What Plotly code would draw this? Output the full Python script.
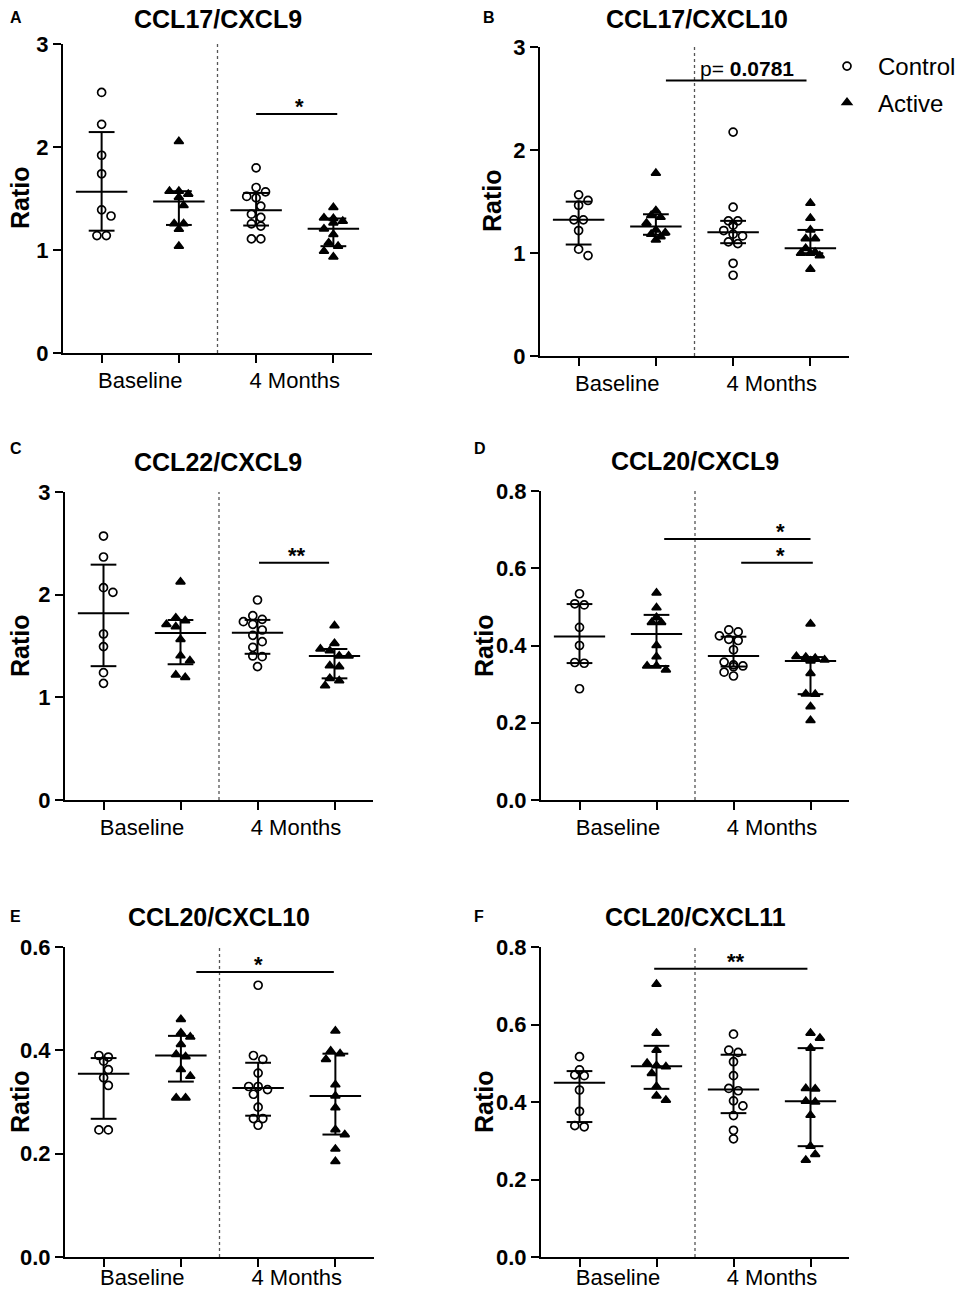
import numpy as np
import plotly.graph_objects as go

FONT = "Liberation Sans, Arial, sans-serif"
# the page puts an 8px margin round the figure; lay things out in the
# reference's pixel frame and shift them by that margin
OX, OY = 8, 8
W, H = 949, 1279

# ---- data (ratio values) ----
# each panel: [Control baseline, Active baseline, Control 4 months, Active 4 months]
ccl17_cxcl9 = [
    [2.53, 2.22, 1.92, 1.74, 1.39, 1.33, 1.14, 1.14],
    [2.054, 1.571, 1.571, 1.543, 1.511, 1.432, 1.257, 1.257, 1.202, 1.037],
    [1.798, 1.607, 1.565, 1.52, 1.506, 1.426, 1.348, 1.316, 1.254, 1.232, 1.108, 1.108],
    [1.413, 1.312, 1.306, 1.28, 1.264, 1.206, 1.151, 1.07, 1.037, 0.988, 0.933],
]
ccl17_cxcl10 = [
    [1.565, 1.51, 1.464, 1.322, 1.322, 1.218, 1.037, 0.975],
    [1.775, 1.412, 1.364, 1.348, 1.29, 1.224, 1.198, 1.183, 1.159, 1.127],
    [2.174, 1.445, 1.312, 1.312, 1.27, 1.218, 1.183, 1.166, 1.108, 1.091, 0.90, 0.784],
    [1.484, 1.338, 1.224, 1.14, 1.14, 1.045, 1.008, 0.998, 0.998, 0.975, 0.843],
]
ccl22_cxcl9 = [
    [2.571, 2.367, 2.068, 2.023, 1.617, 1.494, 1.24, 1.136],
    [2.125, 1.775, 1.746, 1.711, 1.688, 1.565, 1.405, 1.357, 1.218, 1.195],
    [1.948, 1.795, 1.76, 1.737, 1.711, 1.656, 1.604, 1.542, 1.487, 1.403, 1.396, 1.299],
    [1.698, 1.526, 1.471, 1.454, 1.403, 1.403, 1.308, 1.299, 1.185, 1.162, 1.113],
]
ccl20_cxcl9 = [
    [0.534, 0.508, 0.505, 0.447, 0.40, 0.356, 0.354, 0.288],
    [0.536, 0.498, 0.473, 0.46, 0.46, 0.40, 0.371, 0.347, 0.347, 0.337],
    [0.4406, 0.4354, 0.425, 0.416, 0.413, 0.389, 0.357, 0.35, 0.347, 0.345, 0.331, 0.321],
    [0.456, 0.372, 0.37, 0.367, 0.363, 0.36, 0.328, 0.275, 0.274, 0.242, 0.206],
]
ccl20_cxcl10 = [
    [0.390, 0.387, 0.379, 0.3626, 0.347, 0.332, 0.246, 0.246],
    [0.46, 0.434, 0.426, 0.4116, 0.392, 0.388, 0.363, 0.35, 0.308, 0.308],
    [0.526, 0.39, 0.3826, 0.356, 0.33, 0.33, 0.324, 0.315, 0.29, 0.268, 0.268, 0.255],
    [0.4374, 0.3987, 0.3935, 0.3826, 0.3335, 0.3116, 0.289, 0.2465, 0.237, 0.209, 0.185],
]
ccl20_cxcl11 = [
    [0.517, 0.483, 0.47, 0.468, 0.431, 0.376, 0.339, 0.336],
    [0.704, 0.578, 0.534, 0.50, 0.494, 0.491, 0.474, 0.44, 0.416, 0.405],
    [0.575, 0.534, 0.528, 0.504, 0.468, 0.435, 0.429, 0.403, 0.39, 0.365, 0.327, 0.305],
    [0.578, 0.565, 0.539, 0.435, 0.434, 0.402, 0.400, 0.366, 0.286, 0.265, 0.25],
]

panels = [ccl17_cxcl9, ccl17_cxcl10, ccl22_cxcl9, ccl20_cxcl9, ccl20_cxcl10, ccl20_cxcl11]
titles = ["CCL17/CXCL9", "CCL17/CXCL10", "CCL22/CXCL9", "CCL20/CXCL9", "CCL20/CXCL10", "CCL20/CXCL11"]
letters = ["A", "B", "C", "D", "E", "F"]
time_labels = ["Baseline", "4 Months"]
y_max = [3, 3, 3, 0.8, 0.6, 0.8]
y_ticks = [[0, 1, 2, 3], [0, 1, 2, 3], [0, 1, 2, 3],
           [0, 0.2, 0.4, 0.6, 0.8], [0, 0.2, 0.4, 0.6], [0, 0.2, 0.4, 0.6, 0.8]]
# significance bars: (from, to, height, label, label x)
sig_bars = [
    [(2.0, 3.05, 2.32, "*", 2.56)],
    [(1.13, 2.95, 2.675, "p= <b>0.0781</b>", 2.18)],
    [(2.02, 2.93, 2.31, "**", 2.51)],
    [(1.10, 3.0, 0.676, "*", 2.61), (2.1, 3.03, 0.614, "*", 2.61)],
    [(1.2, 2.98, 0.5516, "*", 2.0)],
    [(0.97, 2.96, 0.744, "**", 2.03)],
]

# panel boxes in reference pixels: left, right, top, bottom
boxes = [(63, 372, 44, 353), (540, 849, 47, 356), (65, 373, 492, 800),
         (541, 849, 491, 800), (65, 374, 947, 1257), (541, 849, 947, 1257)]
title_pos = [(218, 19), (697, 19), (218, 462), (695, 461), (219, 917), (695, 917)]
letter_pos = [(8, 17), (481, 17), (8, 448), (472, 448), (8, 916), (472, 916)]
ratio_pos = [(20, 198), (492, 201), (20, 646), (484, 646), (20, 1102), (484, 1102)]
label_standoff = [7, 7, 7, 7, 0, 0]


def fx(px):
    return (px - OX) / W


def fy(py):
    return 1 - (py - OY) / H


def swarm(vals, ppu, dia=8.5, step=4.7):
    """GraphPad-like horizontal spread of points, in pixels."""
    vals = np.asarray(vals, float)
    order = np.argsort(-vals, kind="stable")
    rows = []
    for i in order:
        if rows and (vals[rows[-1][0]] - vals[i]) * ppu < 4.0:
            rows[-1].append(i)
        else:
            rows.append([i])
    off = np.zeros(len(vals))
    placed = []
    for row in rows:
        k = len(row)
        base = [(j - (k - 1) / 2) * 2 * step for j in range(k)]
        best = base
        for s in (0, step, -step, 2 * step, -2 * step):
            cand = [b + s for b in base]
            if all(np.hypot(cx - px, vals[i] * ppu - py) >= dia
                   for cx, i in zip(cand, row) for px, py in placed):
                best = cand
                break
        for cx, i in zip(best, row):
            off[i] = cx
            placed.append((cx, vals[i] * ppu))
    return off


fig = go.Figure()
annotations = []
shapes = []

for p, data in enumerate(panels):
    n = p + 1
    xa = "x" if n == 1 else f"x{n}"
    ya = "y" if n == 1 else f"y{n}"
    left, right, top, bottom = boxes[p]
    px_per_cat = (right - left) / 4.0
    ppu = (bottom - top) / y_max[p]

    for g, vals in enumerate(data):
        is_ctrl = g % 2 == 0
        offs = swarm(vals, ppu) / px_per_cat
        fig.add_trace(go.Scatter(
            x=g + offs, y=vals, mode="markers", xaxis=xa, yaxis=ya,
            name="Control" if is_ctrl else "Active",
            legendgroup="c" if is_ctrl else "a",
            showlegend=(p == 0 and g < 2),
            marker=dict(
                symbol="circle-open" if is_ctrl else "triangle-up",
                size=8,
                color="black",
                line=dict(width=1.7, color="black"),
            ),
            hoverinfo="y",
        ))
        q1, med, q3 = np.percentile(vals, [25, 50, 75], method="weibull")
        fig.add_trace(go.Scatter(
            x=[g - 0.333, g + 0.333, None, g - 0.167, g + 0.167, None,
               g - 0.167, g + 0.167, None, g, g],
            y=[med, med, None, q3, q3, None, q1, q1, None, q1, q3],
            mode="lines", xaxis=xa, yaxis=ya, showlegend=False,
            line=dict(color="black", width=2), hoverinfo="skip",
        ))

    axis_common = dict(showgrid=False, zeroline=False, showline=True,
                       linecolor="black", linewidth=2, ticks="outside",
                       tickcolor="black", tickwidth=2, ticklen=8, automargin=False)
    fig.update_layout({
        ("xaxis" if n == 1 else f"xaxis{n}"): dict(
            axis_common, domain=[fx(left), fx(right)], anchor=ya,
            range=[-0.5, 3.5], tickvals=[0.5, 2.5], ticktext=time_labels,
            ticks="", ticklen=0, ticklabelstandoff=label_standoff[p],
            tickfont=dict(family=FONT, size=22, color="black"),
            minor=dict(tickmode="linear", tick0=0, dtick=1, ticks="outside",
                       ticklen=8, tickwidth=2, tickcolor="black"),
        ),
        ("yaxis" if n == 1 else f"yaxis{n}"): dict(
            axis_common, domain=[fy(bottom), fy(top)], anchor=xa,
            range=[0, y_max[p]], tickvals=y_ticks[p],
            tickformat=".0f" if y_max[p] >= 3 else ".1f",
            tickfont=dict(family=FONT, size=22, color="black", weight="bold"),
        ),
    })

    # dotted separator between time points
    shapes.append(dict(type="line", xref=xa, yref=ya, x0=1.5, x1=1.5, y0=0, y1=y_max[p],
                       line=dict(color="#555555", width=1.3, dash="dot")))

    for x0, x1, yv, label, lx in sig_bars[p]:
        shapes.append(dict(type="line", xref=xa, yref=ya, x0=x0, x1=x1, y0=yv, y1=yv,
                           line=dict(color="black", width=2)))
        is_p = label.startswith("p")
        annotations.append(dict(
            xref=xa, yref=ya, x=lx, y=yv, text=label if is_p else f"<b>{label}</b>",
            showarrow=False, yanchor="bottom", yshift=-2 if is_p else -7,
            font=dict(family=FONT, size=21 if is_p else 22, color="black"),
        ))

    tx, ty = title_pos[p]
    annotations.append(dict(xref="paper", yref="paper", x=fx(tx), y=fy(ty),
                            text=f"<b>{titles[p]}</b>", showarrow=False,
                            xanchor="center", yanchor="middle",
                            font=dict(family=FONT, size=25, color="black")))
    lx_, ly_ = letter_pos[p]
    annotations.append(dict(xref="paper", yref="paper", x=fx(lx_), y=fy(ly_),
                            text=f"<b>{letters[p]}</b>", showarrow=False,
                            xanchor="left", yanchor="middle",
                            font=dict(family=FONT, size=16, color="black")))
    rx, ry = ratio_pos[p]
    annotations.append(dict(xref="paper", yref="paper", x=fx(rx), y=fy(ry),
                            text="<b>Ratio</b>", showarrow=False, textangle=-90,
                            xanchor="center", yanchor="middle",
                            font=dict(family=FONT, size=25, color="black")))

fig.update_layout(
    width=W, height=H,
    margin=dict(l=0, r=0, t=0, b=0, pad=0, autoexpand=False),
    paper_bgcolor="white", plot_bgcolor="white",
    font=dict(family=FONT, color="black"),
    showlegend=True,
    legend=dict(x=fx(816), y=fy(44), xanchor="left", yanchor="top",
                bgcolor="rgba(0,0,0,0)", traceorder="grouped", tracegroupgap=2,
                font=dict(family=FONT, size=24, color="black"), itemwidth=52),
    annotations=annotations,
    shapes=shapes,
)

fig.write_html("out.html")
